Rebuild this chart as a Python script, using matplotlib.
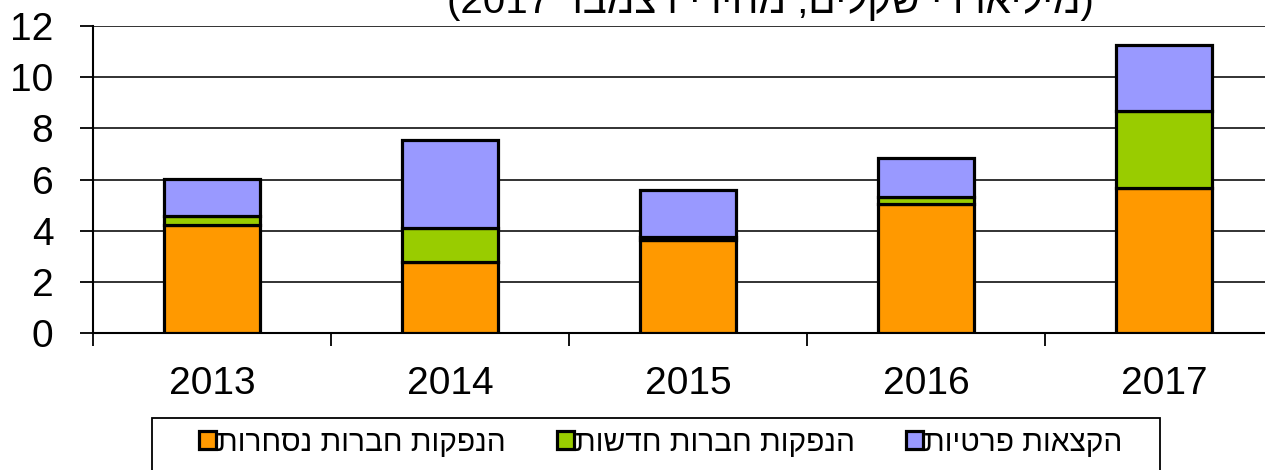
import matplotlib
matplotlib.use("Agg")
import matplotlib.pyplot as plt
from matplotlib.patches import Rectangle
import numpy as np

years = ["2013", "2014", "2015", "2016", "2017"]
traded = [4.22, 2.78, 3.62, 5.03, 5.66]      # הנפקות חברות נסחרות
new_cos = [0.35, 1.32, 0.12, 0.30, 3.03]     # הנפקות חברות חדשות
private = [1.45, 3.45, 1.86, 1.51, 2.57]     # הקצאות פרטיות
labels = ["הנפקות חברות נסחרות", "הנפקות חברות חדשות", "הקצאות פרטיות"]
colors = ["#FF9900", "#99CC00", "#9999FF"]
yticks = [0, 2, 4, 6, 8, 10, 12]
title_text = "מיליארדי שקלים, מחירי דצמבר"
title_year = "2017"

FAM = ["Liberation Sans", "DejaVu Sans"]
plt.rcParams["font.family"] = FAM


def vis(s):
    # visual order for right-to-left Hebrew text
    return s[::-1]


W, H = 1265, 470
fig = plt.figure(figsize=(W / 100, H / 100), dpi=100)
ax = fig.add_axes([93 / W, 137 / H, (238 * 5) / W, (333 - 26) / H])

x = np.arange(len(years))
bottom = np.zeros(len(years))
for vals, lab, col in zip([traded, new_cos, private], labels, colors):
    ax.bar(x, vals, width=0.4, bottom=bottom, color=col, edgecolor="black",
           linewidth=2.3, label=vis(lab), zorder=3)
    bottom = bottom + np.array(vals)

ax.set_xlim(-0.5, len(years) - 0.5)
ax.set_ylim(0, 12)
ax.set_yticks(yticks)
ax.set_yticklabels([str(t) for t in yticks], fontsize=28)
ax.set_xticks(x)
ax.set_xticklabels(years, fontsize=28)
ax.set_xticks(np.arange(-0.5, len(years), 1.0), minor=True)
ax.tick_params(axis="x", which="major", length=0, pad=24)
ax.tick_params(axis="x", which="minor", length=9.5, width=1.3, direction="out")
ax.tick_params(axis="y", which="major", length=9.5, width=1.3, direction="out", pad=19)

ax.grid(axis="y", color="#222222", linewidth=1.3, zorder=0)
ax.set_axisbelow(True)
for s in ["top", "right"]:
    ax.spines[s].set_visible(False)
for s in ["left", "bottom"]:
    ax.spines[s].set_linewidth(1.5)
    ax.spines[s].set_color("black")

fig.text(770 / W, 1 - 13 / H, "(" + title_year + " " + vis(title_text) + ")",
         fontsize=29, ha="center", va="baseline")

# legend frame
fig.patches.append(Rectangle((152 / W, -10 / H), 1008 / W, (470 - 418 + 10) / H,
                             transform=fig.transFigure, facecolor="white",
                             edgecolor="black", linewidth=1.3, zorder=1))
leg = fig.legend(loc="center", bbox_to_anchor=(661 / W, 1 - 443 / H),
                 ncol=3, fontsize=21.5, frameon=False,
                 handlelength=0.55, handleheight=0.55, handletextpad=0.05,
                 columnspacing=1.72, borderpad=0, borderaxespad=0)
leg.set_zorder(5)

fig.savefig("out.png", dpi=100)
